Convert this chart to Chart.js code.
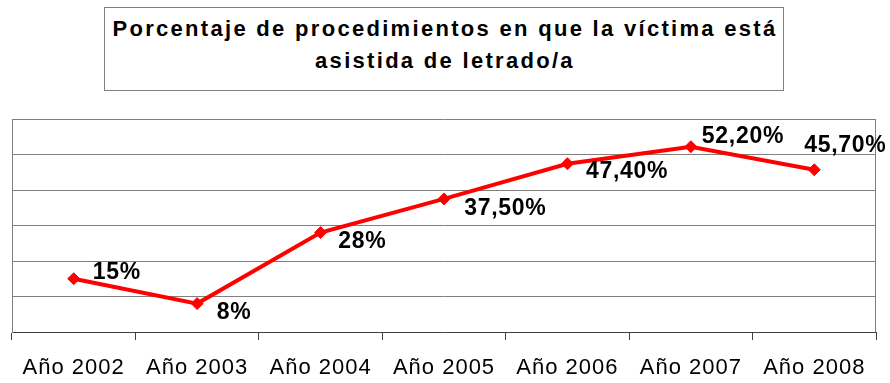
<!DOCTYPE html>
<html>
<head>
<meta charset="utf-8">
<script src="https://cdn.jsdelivr.net/npm/chart.js@4.4.1/dist/chart.umd.min.js"></script>
<style>
    body { margin: 0; background: #fff; }
    #wrap { position: relative; width: 890px; height: 383px; }
    #title {
        position: absolute;
        left: 104px;
        top: 7px;
        width: 680px;
        height: 84px;
        box-sizing: border-box;
        border: 1px solid #808080;
        background: #fff;
        padding-top: 5px;
        padding-left: 2px;
        text-align: center;
        font: bold 22px "Liberation Sans", Arial, sans-serif;
        letter-spacing: 2.3px;
        line-height: 32px;
        color: #000;
        white-space: nowrap;
    }
</style>
</head>
<body>
<div id="wrap">
    <canvas id="chart" width="890" height="383"></canvas>
    <div id="title">Porcentaje de procedimientos en que la víctima está<br>asistida de letrado/a</div>
</div>
<script>
/**years along the x axis */
const YEARS = ["Año 2002", "Año 2003", "Año 2004", "Año 2005", "Año 2006", "Año 2007", "Año 2008"];
/**share of proceedings where the victim has a lawyer (%) */
const PERCENTAGES = [15, 8, 28, 37.5, 47.4, 52.2, 45.7];
/**value axis range and gridline step */
const Y_MIN = 0;
const Y_MAX = 60;
const Y_STEP = 10;
/**where each value label sits, relative to its point: [dx, dy] */
const LABEL_OFFSETS = [[19, 0.5], [19.5, 15.4], [17.7, 15.7], [20.3, 15.8], [18.6, 14.6], [11, -3.4], [-10, -17.5]];

const LINE_RED = "#ff0000";
const GRID_GRAY = "#808080";
const AXIS_DARK = "#404040";

/**
 * format a value the way the labels show it: whole numbers plain, others with two decimals and a comma
 * @param {number} v the value
 * @returns {string} label text
 */
const formatPercent = (v) =>
    Number.isInteger(v) ? v + "%" : v.toFixed(2).replace(".", ",") + "%";

/**draws the right edge of the plot and sets spacing for the year labels */
const plotFrame = {
    id: "plotFrame",
    beforeDraw(chart) {
        chart.ctx.letterSpacing = "1px";
    },
    beforeDatasetsDraw(chart) {
        const { ctx, chartArea } = chart;
        ctx.save();
        ctx.strokeStyle = GRID_GRAY;
        ctx.lineWidth = 1;
        ctx.beginPath();
        ctx.moveTo(Math.round(chartArea.right) - 0.5, chartArea.top);
        ctx.lineTo(Math.round(chartArea.right) - 0.5, chartArea.bottom);
        ctx.stroke();
        ctx.restore();
    },
};

/**value labels next to each point */
const pointLabels = {
    id: "pointLabels",
    afterDatasetsDraw(chart) {
        const ctx = chart.ctx;
        const meta = chart.getDatasetMeta(0);
        ctx.save();
        ctx.font = 'bold 23px "Liberation Sans", Arial, sans-serif';
        ctx.letterSpacing = "0.7px";
        ctx.fillStyle = "#000";
        ctx.textAlign = "left";
        ctx.textBaseline = "alphabetic";
        meta.data.forEach((pt, i) => {
            const [dx, dy] = LABEL_OFFSETS[i];
            ctx.fillText(formatPercent(PERCENTAGES[i]), pt.x + dx, pt.y + dy);
        });
        ctx.restore();
    },
};

const ctx = document.getElementById("chart").getContext("2d");
new Chart(ctx, {
    type: "line",
    data: {
        labels: YEARS,
        datasets: [
            {
                data: PERCENTAGES,
                borderColor: LINE_RED,
                backgroundColor: LINE_RED,
                borderWidth: 4,
                pointStyle: "rectRot",
                pointRadius: 6,
                pointBorderWidth: 1,
                pointBackgroundColor: LINE_RED,
                pointBorderColor: LINE_RED,
                tension: 0,
            },
        ],
    },
    options: {
        animation: false,
        responsive: false,
        devicePixelRatio: 1,
        layout: { padding: { top: 119, left: 12, right: 14, bottom: 0 } },
        plugins: {
            legend: { display: false },
            tooltip: { enabled: false },
        },
        scales: {
            x: {
                offset: true,
                grid: {
                    offset: true,
                    drawOnChartArea: false,
                    drawTicks: true,
                    tickLength: 8,
                    color: AXIS_DARK,
                },
                border: { color: AXIS_DARK, width: 1 },
                ticks: {
                    color: "#000",
                    padding: 15,
                    maxRotation: 0,
                    autoSkip: false,
                    font: { family: '"Liberation Sans", Arial, sans-serif', size: 22 },
                },
                afterFit: (s) => { s.height = 51; },
            },
            y: {
                min: Y_MIN,
                max: Y_MAX,
                ticks: { stepSize: Y_STEP, display: false },
                grid: { color: GRID_GRAY, drawTicks: false },
                border: { color: GRID_GRAY },
                afterFit: (s) => { s.width = 0; },
            },
        },
    },
    plugins: [plotFrame, pointLabels],
});
</script>
</body>
</html>
